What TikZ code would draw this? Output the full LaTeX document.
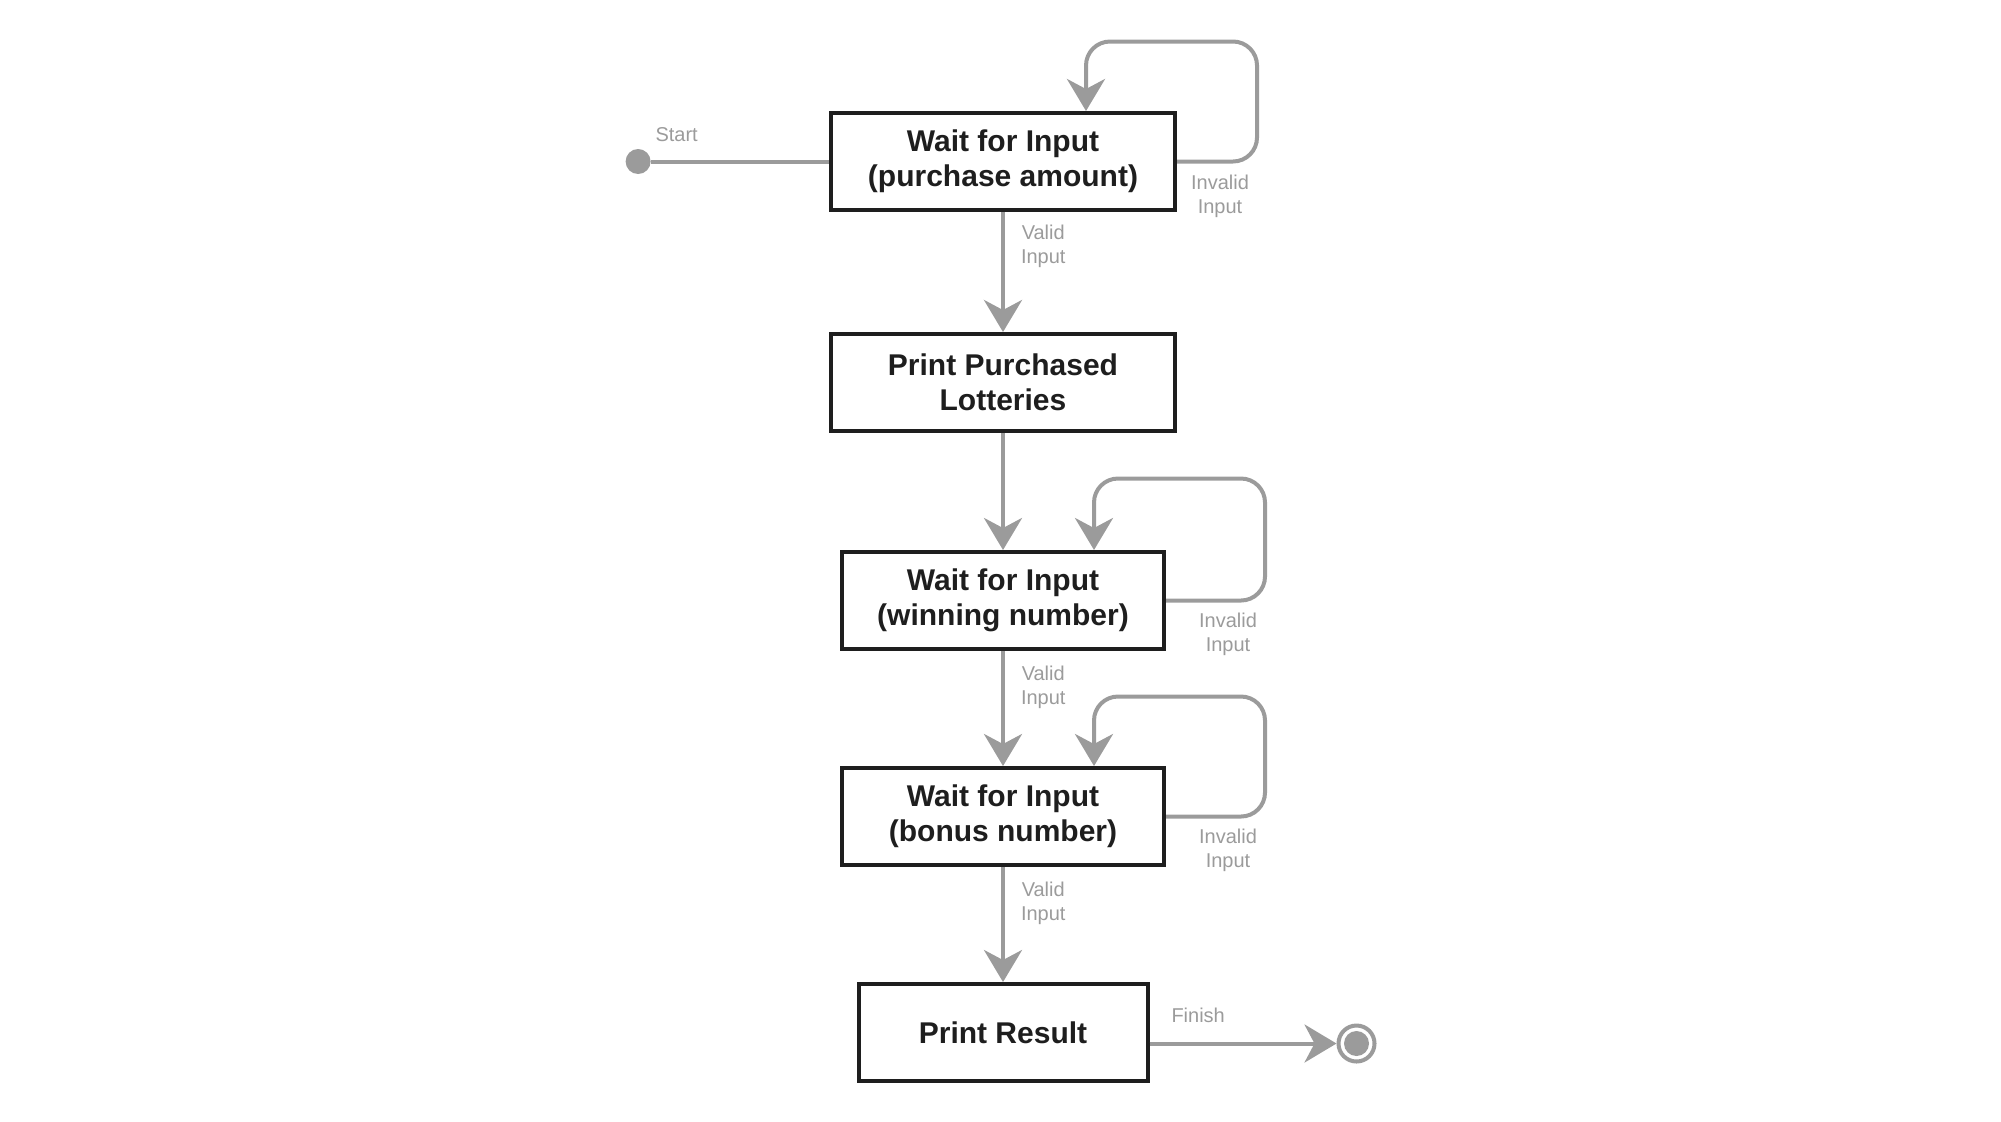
\documentclass[tikz,border=0pt]{standalone}
\usepackage{fontspec}
\setmainfont{Liberation Sans}
\usetikzlibrary{arrows.meta,positioning}
\definecolor{linegray}{RGB}{155,155,155}
\definecolor{boxblack}{RGB}{30,30,30}
\tikzset{
    state/.style = {rectangle, draw=boxblack, line width=2pt, minimum height=48.5pt, text centered, align=center, text=boxblack, font=\fontsize{15}{17.5}\selectfont\bfseries},
    flow/.style = {draw=linegray, line width=2pt, -{Stealth[length=16pt, width=19pt, inset=5pt]}},
    link/.style = {draw=linegray, line width=2pt},
    lbl/.style = {text=linegray, align=center, inner sep=0pt, font=\fontsize{10}{12}\selectfont},
    startdot/.style = {circle, fill=linegray, minimum size=12.5pt, inner sep=0pt},
    enddot/.style = {circle, draw=linegray, line width=2pt, minimum size=18pt, inner sep=0pt, path picture={\fill[linegray] (path picture bounding box.center) circle (6.25pt);}}
}
\begin{document}
\begin{tikzpicture}[node distance=58pt]
    \useasboundingbox (0,0) rectangle (1000.5pt,-560.5pt);

    % states
    \node [state, minimum width=172pt] (amount) at (501.5pt,-80.75pt) {Wait for Input\\(purchase amount)};
    \node [state, minimum width=172pt, below=60pt of amount] (lotto) {Print Purchased\\Lotteries};
    \node [state, minimum width=161pt, below=58.5pt of lotto] (winning) {Wait for Input\\(winning number)};
    \node [state, minimum width=161pt, below=57.5pt of winning] (bonus) {Wait for Input\\(bonus number)};
    \node [state, minimum width=144.5pt, below=57.5pt of bonus] (result) {Print Result};

    \node [startdot, left=89pt of amount] (start) {};
    \node [lbl, anchor=south west] (startlbl) at ([shift={(8.5pt,9.5pt)}]start.center) {Start};
    \node [enddot, right=93.5pt of result, yshift=-5.5pt] (finish) {};

    % transitions
    \draw [link] (start) -- (amount);
    \draw [flow] (amount) -- node[lbl, anchor=north west, pos=0, shift={(8pt,-5.5pt)}] {Valid\\Input} (lotto);
    \draw [flow] (lotto) -- (winning);
    \draw [flow] (winning) -- node[lbl, anchor=north west, pos=0, shift={(8pt,-6.5pt)}] {Valid\\Input} (bonus);
    \draw [flow] (bonus) -- node[lbl, anchor=north west, pos=0, shift={(8pt,-6.5pt)}] {Valid\\Input} (result);
    \draw [flow] ([yshift=-5.5pt]result.east) -- node[lbl, anchor=south west, pos=0, shift={(10pt,9.5pt)}] {Finish} (finish);

    % invalid input loops
    \draw [flow, rounded corners=12pt] (amount.east) -| node[lbl, anchor=north, pos=0.5, shift={(-18.5pt,-5.5pt)}] {Invalid\\Input} ++(40pt,60pt) -| ([xshift=41.5pt]amount.north);
    \draw [flow, rounded corners=12pt] (winning.east) -| node[lbl, anchor=north, pos=0.5, shift={(-18.5pt,-5pt)}] {Invalid\\Input} ++(49.5pt,61pt) -| ([xshift=45.5pt]winning.north);
    \draw [flow, rounded corners=12pt] (bonus.east) -| node[lbl, anchor=north, pos=0.5, shift={(-18.5pt,-5pt)}] {Invalid\\Input} ++(49.5pt,60pt) -| ([xshift=45.5pt]bonus.north);
\end{tikzpicture}
\end{document}
